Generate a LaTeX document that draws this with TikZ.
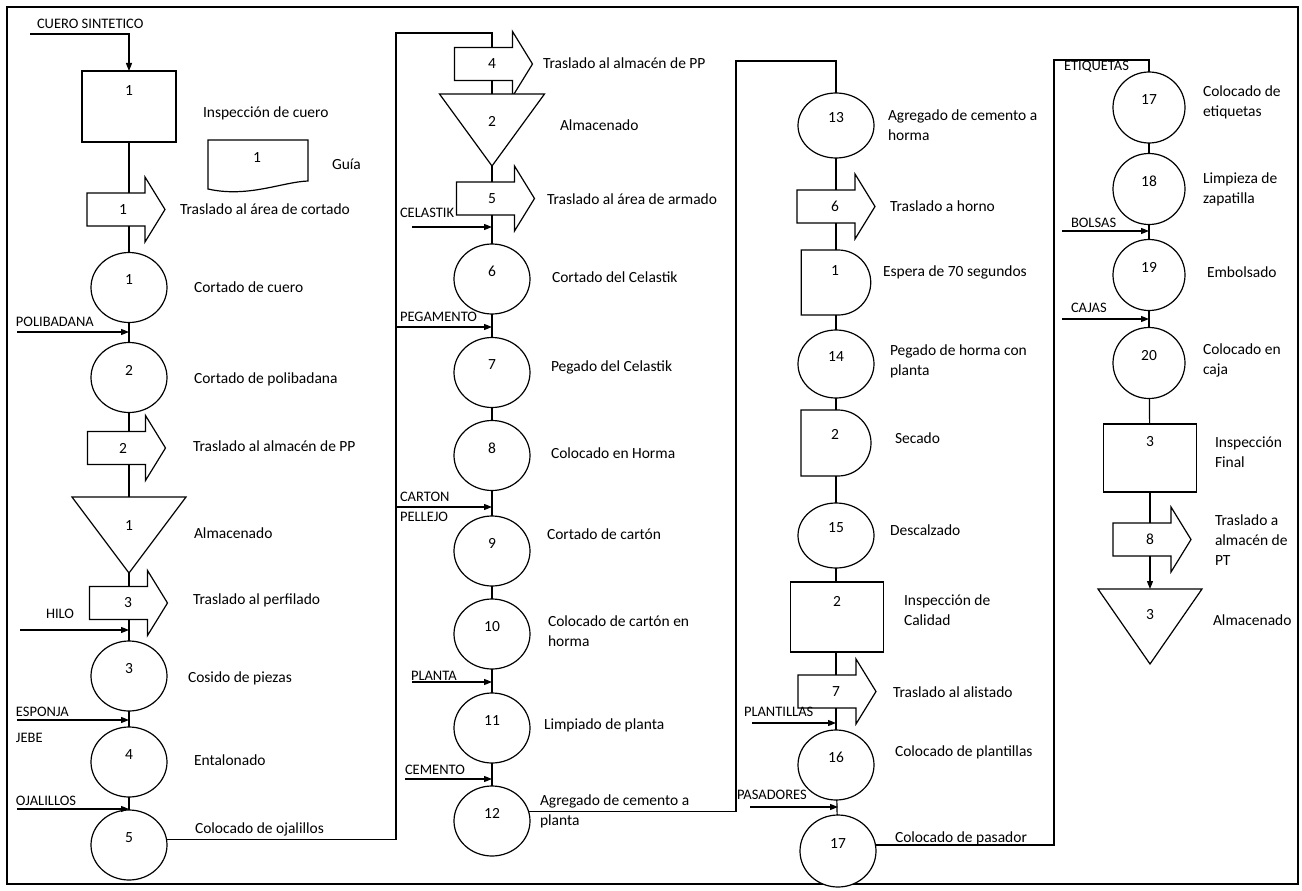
\documentclass[tikz,border=0pt]{standalone}
\usepackage{fontspec}
\setmainfont{Carlito}
\usetikzlibrary{arrows.meta,shapes.geometric}
\tikzset{
  bb/.style={inner sep=0pt, outer sep=0pt},
  shp/.style={draw, line width=1.2pt, fill=white},
  circ/.style={ellipse, shp, bb, minimum width=76pt, minimum height=70pt},
  num/.style={bb, font=\fontsize{15.5}{18}\selectfont},
  lbl/.style={bb, anchor=west, align=left, font=\fontsize{15.5}{20}\selectfont},
  mat/.style={bb, anchor=west, font=\fontsize{14.5}{17}\selectfont},
  conn/.style={line width=1.2pt},
  feed/.style={line width=1.2pt, -{Triangle[length=8pt,width=6pt]}},
}
% circle: [opts]{name}{x}{y}{number}
\newcommand\mkCirc[5][]{\node[circ,#1] (#2) at (#3,#4) {};\node[num] (#2n) at (#3,#4-7.5) {#5};}
% box: [opts]{name}{x}{y}{number}{number y}
\newcommand\mkBox[6][]{\node[shp,bb,minimum width=93pt,minimum height=70pt,#1] (#2) at (#3,#4) {};\node[num] (#2n) at (#3,#6) {#5};}
% triangle: {name}{cx}{cy}{w}{h}{number}{number y}
\newcommand\mkTri[7]{\node[bb,minimum width=#4pt,minimum height=#5pt] (#1) at (#2,#3) {};
  \draw[shp] (#1.north west) -- (#1.north east) -- (#1.south) -- cycle;
  \node[num] (#1n) at (#2,#7) {#6};}
% transport arrow: {name}{body cx}{cy}{number}{number x}
\newcommand\mkArrow[5]{\node[bb,minimum width=58pt,minimum height=33pt] (#1) at (#2,#3) {};
  \draw[shp] (#1.north west) -- (#1.north east) -- ++(0pt,16pt) -- ([xshift=20pt]#1.east) -- ([yshift=-16pt]#1.south east) -- (#1.south east) -- (#1.south west) -- cycle;
  \node[num] (#1n) at (#5,#3) {#4};}
% delay: {name}{cx}{cy}{h}{number}{number x}{number y}
\newcommand\mkDelay[7]{\node[bb,minimum width={37pt+#4*0.5pt},minimum height=#4pt] (#1) at (#2,#3) {};
  \draw[shp] (#1.north west) -- ++(37pt,0pt) arc[start angle=90,end angle=-90,radius={#4*0.5pt}] -- (#1.south west) -- cycle;
  \node[num] (#1n) at (#6,#7) {#5};}
\begin{document}
\begin{tikzpicture}[x=1pt,y=-1pt]
\useasboundingbox (0,0) rectangle (1302,891);
\fill[white] (0,0) rectangle (1302,891);
\draw[line width=1.6pt] (7,7) rectangle (1298,884);

% ---------------- column 1 ----------------
\node[mat] (lcuero) at (37,24) {CUERO SINTETICO};
\coordinate (scuero) at (30,34);
\mkBox[minimum width=94pt,minimum height=71pt]{b1}{129}{106.5}{1}{91}
\node[lbl] (tb1) at (203,113) {Inspección de cuero};
\draw[shp] (208,140) -- (308,140) -- (308,181) .. controls (282,182) and (248,198) .. (208,189) -- cycle;
\node[num] (g1) at (257,158) {1};
\node[lbl] (tg) at (332,164) {Guía};
\mkArrow{a1}{116}{209.5}{1}{123}
\node[lbl] (ta1) at (180,209) {Traslado al área de cortado};
\mkCirc{c1}{129}{287.5}{1}
\node[lbl] (tc1) at (194,287) {Cortado de cuero};
\node[mat] (lpol) at (16,322) {POLIBADANA};
\coordinate (spol) at (17,332);
\mkCirc{c2}{129}{377.5}{2}
\node[lbl] (tc2) at (194,379) {Cortado de polibadana};
\mkArrow{a2}{116.5}{448}{2}{123}
\node[lbl] (ta2) at (193,446) {Traslado al almacén de PP};
\mkTri{t1}{129}{535}{114}{76}{1}{526}
\node[lbl] (tt1) at (194,533) {Almacenado};
\mkArrow{a3}{118.5}{603}{3}{128}
\node[lbl] (ta3) at (193,600) {Traslado al perfilado};
\node[mat] (lhilo) at (46,614) {HILO};
\coordinate (shilo) at (20,630);
\mkCirc{c3}{129}{676}{3}
\node[lbl] (tc3) at (188,678) {Cosido de piezas};
\node[mat] (lesp) at (16,712) {ESPONJA};
\node[mat] (ljebe) at (16,738) {JEBE};
\coordinate (sesp) at (17,720);
\mkCirc{c4}{129}{762}{4}
\node[lbl] (tc4) at (194,760) {Entalonado};
\node[mat] (loja) at (16,801) {OJALILLOS};
\coordinate (soja) at (17,809);
\mkCirc{c5}{129}{845}{5}
\node[lbl] (tc5) at (195,829) {Colocado de ojalillos};
\coordinate (j1) at (396,33);

% ---------------- column 2 ----------------
\mkArrow{a4}{483.5}{64}{4}{492}
\node[lbl] (ta4) at (543,63) {Traslado al almacén de PP};
\mkTri{t2}{492}{130}{105}{72}{2}{121}
\node[lbl] (tt2) at (560,125) {Almacenado};
\mkArrow{a5}{485.5}{198.5}{5}{492}
\node[lbl] (ta5) at (547,199) {Traslado al área de armado};
\node[mat] (lcel) at (400,213) {CELASTIK};
\coordinate (scel) at (412,227);
\mkCirc{c6}{492}{279}{6}
\node[lbl] (tc6) at (552,277) {Cortado del Celastik};
\node[mat] (lpeg) at (400,317) {PEGAMENTO};
\coordinate (speg) at (396,327);
\mkCirc{c7}{492}{372.5}{7}
\node[lbl] (tc7) at (551,367) {Pegado del Celastik};
\mkCirc{c8}{492}{455.5}{8}
\node[lbl] (tc8) at (551,453) {Colocado en Horma};
\node[mat] (lcar) at (400,497) {CARTON};
\node[mat] (lpel) at (400,517) {PELLEJO};
\coordinate (scar) at (396,507);
\mkCirc{c9}{492}{551}{9}
\node[lbl] (tc9) at (547,534) {Cortado de cartón};
\mkCirc{c10}{492}{634}{10}
\node[lbl] (tc10) at (548,631) {Colocado de cartón en\\horma};
\node[mat] (lpla) at (411,676) {PLANTA};
\coordinate (spla) at (412,682);
\mkCirc{c11}{492}{728}{11}
\node[lbl] (tc11) at (544,725) {Limpiado de planta};
\node[mat] (lcem) at (405,770) {CEMENTO};
\coordinate (scem) at (405,779);
\mkCirc{c12}{492}{821}{12}
\node[lbl] (tc12) at (540,811) {Agregado de cemento a\\planta};
\coordinate (j2) at (736,61);

% ---------------- column 3 ----------------
\mkCirc[minimum height=65pt]{c13}{836}{125.5}{13}
\node[lbl] (tc13) at (888,125) {Agregado de cemento a\\horma};
\mkArrow{a6}{826}{206.5}{6}{835}
\node[lbl] (ta6) at (890,206) {Traslado a horno};
\mkDelay{d1}{836}{282.5}{65}{1}{835}{271}
\node[lbl] (td1) at (883,272) {Espera de 70 segundos};
\mkCirc[minimum height=68pt]{c14}{836}{364}{14}
\node[lbl] (tc14) at (890,361) {Pegado de horma con\\planta};
\mkDelay{d2}{836}{443}{66}{2}{835}{434}
\node[lbl] (td2) at (895,438) {Secado};
\mkCirc[minimum height=65pt]{c15}{836}{535.5}{15}
\node[lbl] (tc15) at (890,530) {Descalzado};
\mkBox{b2}{837}{617}{2}{601}
\node[lbl] (tb2) at (904,610) {Inspección de\\Calidad};
\mkArrow{a7}{827}{691.5}{7}{836}
\node[lbl] (ta7) at (893,692) {Traslado al alistado};
\node[mat] (lpln) at (744,712) {PLANTILLAS};
\coordinate (spln) at (752,723);
\mkCirc{c16}{836}{765}{16}
\node[lbl] (tc16) at (895,752) {Colocado de plantillas};
\node[mat] (lpas) at (737,795) {PASADORES};
\coordinate (spas) at (750,807);
\mkCirc[minimum height=72pt]{c17}{838}{851}{17}
\node[lbl] (tc17) at (895,838) {Colocado de pasador};
\coordinate (j3) at (1054,60);

% ---------------- column 4 ----------------
\node[mat] (leti) at (1064,67) {ETIQUETAS};
\mkCirc[minimum width=72pt,minimum height=71pt]{c17b}{1149}{107.5}{17}
\node[lbl] (tc17b) at (1203,102) {Colocado de\\etiquetas};
\mkCirc[minimum width=72pt,minimum height=71pt]{c18}{1149}{189}{18}
\node[lbl] (tc18) at (1203,189) {Limpieza de\\zapatilla};
\node[mat] (lbol) at (1071,223) {BOLSAS};
\coordinate (sbol) at (1062,231);
\mkCirc[minimum width=72pt,minimum height=71pt]{c19}{1149}{275}{19}
\node[lbl] (tc19) at (1207,272) {Embolsado};
\node[mat] (lcaj) at (1071,308) {CAJAS};
\coordinate (scaj) at (1062,319);
\mkCirc[minimum width=72pt,minimum height=71pt]{c20}{1149}{363}{20}
\node[lbl] (tc20) at (1203,360) {Colocado en\\caja};
\mkBox[minimum height=68pt]{b3}{1150}{458}{3}{442}
\node[lbl] (tb3) at (1215,452) {Inspección\\Final};
\mkArrow{a8}{1142}{539.5}{8}{1150}
\node[lbl] (ta8) at (1215,540) {Traslado a\\almacén de\\PT};
\mkTri{t3}{1150}{626.5}{104}{75}{3}{615}
\node[lbl] (tt3) at (1213,620) {Almacenado};

% ---------------- connectors ----------------
% column 1
\draw[feed] (scuero) -| (b1.north);
\draw[conn] (b1.south) -- (b1.south |- a1.north);
\draw[conn] (c1.north |- a1.south) -- (c1.north);
\draw[conn] (c1) -- (c2);
\draw[conn] (c2.south) -- (c2.south |- a2.north);
\draw[conn] (t1.north |- a2.south) -- (t1.north);
\draw[conn] (t1.south) -- (t1.south |- a3.north);
\draw[conn] (c3.north |- a3.south) -- (c3.north);
\draw[conn] (c3) -- (c4);
\draw[conn] (c4) -- (c5);
\draw[feed] (spol) -- (spol -| c2.north);
\draw[feed] (shilo) -- (shilo -| c3.north);
\draw[feed] (sesp) -- (sesp -| c4.north);
\draw[feed] (soja) -- (soja -| c5.north);
% column 1 to column 2
\draw[conn] (c5.8) -| (j1) -- (j1 -| t2.north) -- (t2.north |- a4.north);
% column 2
\draw[conn] (t2.north |- a4.south) -- (t2.north);
\draw[conn] (t2.south) -- (t2.south |- a5.north);
\draw[conn] (c6.north |- a5.south) -- (c6.north);
\draw[conn] (c6) -- (c7);
\draw[conn] (c7) -- (c8);
\draw[conn] (c8) -- (c9);
\draw[conn] (c9) -- (c10);
\draw[conn] (c10) -- (c11);
\draw[conn] (c11) -- (c12);
\draw[feed] (scel) -- (scel -| c6.north);
\draw[feed] (speg) -- (speg -| c7.north);
\draw[feed] (scar) -- (scar -| c9.north);
\draw[feed] (spla) -- (spla -| c11.north);
\draw[feed] (scem) -- (scem -| c12.north);
% column 2 to column 3
\draw[conn] (c12.15) -| (j2) -- (j2 -| c13.north) -- (c13.north);
% column 3
\draw[conn] (c13.south) -- (c13.south |- a6.north);
\draw[conn] (c13.south |- a6.south) -- (c13.south |- d1.north);
\draw[conn] (c14.north |- d1.south) -- (c14.north);
\draw[conn] (c14.south) -- (c14.south |- d2.north);
\draw[conn] (c15.north |- d2.south) -- (c15.north);
\draw[conn] (c15.south) -- (c15.south |- b2.north);
\draw[conn] (c15.south |- b2.south) -- (c15.south |- a7.north);
\draw[conn] (c16.north |- a7.south) -- (c16.north);
\draw[conn] (c16) -- (c17);
\draw[feed] (spln) -- (spln -| c16.north);
\draw[feed] (spas) -- (spas -| c17.north);
% column 3 to column 4
\draw[conn] (c17.9) -| (j3) -- (j3 -| c17b.north) -- (c17b.north);
% column 4
\draw[conn] (c17b) -- (c18);
\draw[conn] (c18) -- (c19);
\draw[conn] (c19) -- (c20);
\draw[conn] (c20) -- (b3);
\draw[conn] (b3.south) -- (b3.south |- a8.north);
\draw[feed] (t3.north |- a8.south) -- (t3.north);
\draw[feed] (sbol) -- (sbol -| c19.north);
\draw[feed] (scaj) -- (scaj -| c20.north);
\end{tikzpicture}
\end{document}
